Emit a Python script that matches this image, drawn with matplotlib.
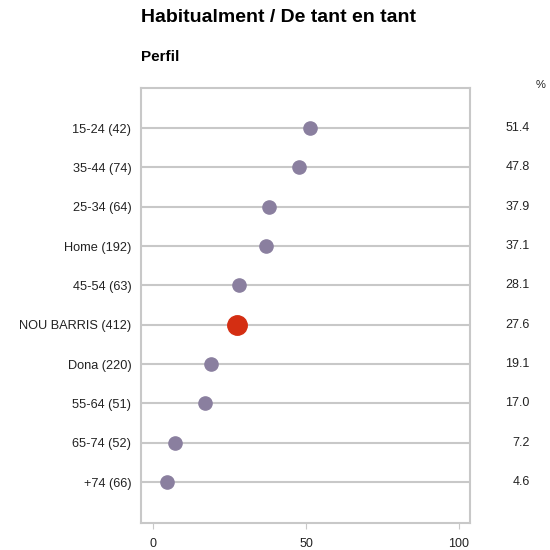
import matplotlib
matplotlib.use("Agg")
import matplotlib.pyplot as plt

labels = ["15-24 (42)", "35-44 (74)", "25-34 (64)", "Home (192)", "45-54 (63)",
          "NOU BARRIS (412)", "Dona (220)", "55-64 (51)", "65-74 (52)", "+74 (66)"]
values = [51.4, 47.8, 37.9, 37.1, 28.1, 27.6, 19.1, 17.0, 7.2, 4.6]
highlight = "NOU BARRIS (412)"

plt.rcParams["font.family"] = ["Liberation Sans", "DejaVu Sans"]

fig = plt.figure(figsize=(5.5, 5.5), dpi=100)
ax = fig.add_axes([141 / 550, 1 - 523 / 550, 329 / 550, 435 / 550])

grid_c = "#c8c8c8"
for i, (lab, v) in enumerate(zip(labels, values)):
    ax.axhline(i, color=grid_c, lw=1.5, zorder=1)
    if lab == highlight:
        ax.plot(v, i, "o", ms=14, color="#d42e12", zorder=3)
    else:
        ax.plot(v, i, "o", ms=9.5, color="#8a7f9f", zorder=3)
    ax.text(1.182, i, f"{v:.1f}", transform=ax.get_yaxis_transform(),
            ha="right", va="center", fontsize=9, color="#222222")

ax.set_xlim(-3.9, 103.6)
ax.set_ylim(10.04, -1.02)
ax.set_yticks(range(len(labels)))
ax.set_yticklabels(labels, fontsize=9.2, color="#222222")
ax.tick_params(axis="y", length=0, pad=7)
ax.set_xticks([0, 50, 100])
ax.tick_params(axis="x", length=4, color=grid_c, labelsize=9, pad=7,
               labelcolor="#222222", direction="out")
for s in ax.spines.values():
    s.set_color(grid_c)
    s.set_linewidth(1.5)

fig.text(141 / 550, 1 - 18 / 550, "Habitualment / De tant en tant",
         fontsize=14, fontweight="bold", va="center", ha="left")
fig.text(141 / 550, 1 - 57 / 550, "Perfil", fontsize=11, fontweight="bold",
         va="center", ha="left")
fig.text(545 / 550, 1 - 85 / 550, "%", fontsize=8, ha="right", va="center",
         color="#222222")

fig.savefig("out.png", dpi=100)
